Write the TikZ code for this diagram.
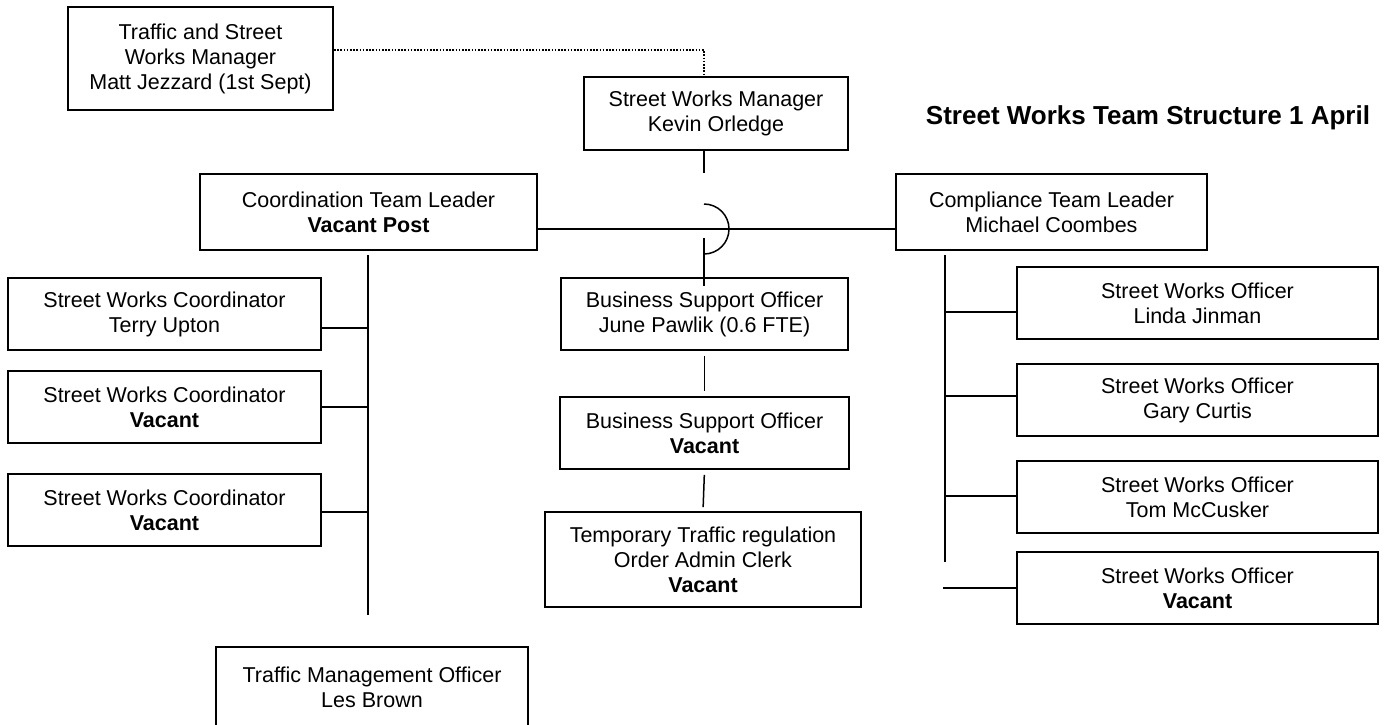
\documentclass[tikz,border=0pt]{standalone}
\usepackage{fontspec}
\setmainfont{Liberation Sans}
\usetikzlibrary{calc}
\begin{document}
\begin{tikzpicture}[x=1pt,y=1pt,
  orgbox/.style={draw, line width=1.8pt, align=center, inner sep=0pt,
    font=\fontsize{21.5}{25}\selectfont},
  link/.style={line width=1.5pt},
  dotline/.style={line width=1.6pt, dash pattern=on 1.6pt off 1.6pt},
  titletext/.style={font=\fontsize{26}{30}\selectfont\bfseries}]
\fill[white] (0,0) rectangle (1390,-724);
\useasboundingbox (0,0) rectangle (1390,-724);

% boxes
\node[orgbox, minimum width=265pt, minimum height=103pt] (tsm) at (200.5,-58.5)
  {Traffic and Street\\Works Manager\\Matt Jezzard (1st Sept)};
\node[orgbox, minimum width=264pt, minimum height=73pt] (swm) at (716,-113.5)
  {Street Works Manager\\Kevin Orledge};
\node[orgbox, minimum width=337pt, minimum height=76pt] (ctl) at (368.5,-212)
  {Coordination Team Leader\\\textbf{Vacant Post}};
\node[orgbox, minimum width=311pt, minimum height=76pt] (cmp) at (1051.5,-212)
  {Compliance Team Leader\\Michael Coombes};

\node[orgbox, minimum width=313pt, minimum height=72pt] (c1) at (164.5,-314)
  {Street Works Coordinator\\Terry Upton};
\node[orgbox, minimum width=313pt, minimum height=72pt] (c2) at (164.5,-407)
  {Street Works Coordinator\\\textbf{Vacant}};
\node[orgbox, minimum width=313pt, minimum height=72pt] (c3) at (164.5,-510)
  {Street Works Coordinator\\\textbf{Vacant}};
\node[orgbox, minimum width=312pt, minimum height=80pt] (tmo) at (372,-687)
  {Traffic Management Officer\\Les Brown};

\node[orgbox, minimum width=287pt, minimum height=72pt] (bso1) at (704.5,-314)
  {Business Support Officer\\June Pawlik (0.6 FTE)};
\node[orgbox, minimum width=289pt, minimum height=72pt] (bso2) at (704.5,-433)
  {Business Support Officer\\\textbf{Vacant}};
\node[orgbox, minimum width=316pt, minimum height=95pt] (ttr) at (703,-559.5)
  {Temporary Traffic regulation\\Order Admin Clerk\\\textbf{Vacant}};

\node[orgbox, minimum width=361pt, minimum height=72pt] (r1) at (1197.5,-303)
  {Street Works Officer\\Linda Jinman};
\node[orgbox, minimum width=361pt, minimum height=72pt] (r2) at (1197.5,-400)
  {Street Works Officer\\Gary Curtis};
\node[orgbox, minimum width=361pt, minimum height=72pt] (r3) at (1197.5,-497)
  {Street Works Officer\\Tom McCusker};
\node[orgbox, minimum width=361pt, minimum height=72pt] (r4) at (1197.5,-588)
  {Street Works Officer\\\textbf{Vacant}};

\node[titletext] (title) at (1148,-118) {Street Works Team Structure 1 April};

% helper coordinates
\coordinate (jc) at (704,-229);
\coordinate (dl) at (0,-50);
\coordinate (lt) at (368,-255);
\coordinate (lb) at (368,-615);
\coordinate (rt) at (945,-255);
\coordinate (rb) at (945,-562);

% dotted link
\draw[dotline] (tsm.east |- dl) -- (jc |- dl) -- (swm.north -| jc);

% manager stub, jump and line down
\draw[link] (swm.south -| jc) -- ++(0,-22);
\draw[link] ($(jc)+(0,25)$) arc[start angle=90, end angle=-90, radius=25pt];
\draw[link] ($(jc)+(0,-9)$) -- ([yshift=-9pt]bso1.north -| jc);
\draw[link] (ctl.east |- jc) -- (cmp.west |- jc);

% business support chain
\draw[link, shorten <=5pt, shorten >=5pt] (bso1.south) -- (bso2.north);
\draw[link, shorten <=5pt, shorten >=4pt] (bso2.south) -- (ttr.north);

% left tree
\draw[link] (lt) -- (lb);
\draw[link] ([yshift=-14pt]c1.east) -| (lt);
\draw[link] (c2.east) -| (lt);
\draw[link] ([yshift=-2pt]c3.east) -| (lt);

% right tree
\draw[link] (rt) -- (rb);
\draw[link] ([yshift=-9pt]r1.west) -| (rt);
\draw[link] ([yshift=4pt]r2.west) -| (rt);
\draw[link] ([yshift=1pt]r3.west) -| (rt);
\draw[link] (r4.west) -- ++(-73,0);
\end{tikzpicture}
\end{document}
